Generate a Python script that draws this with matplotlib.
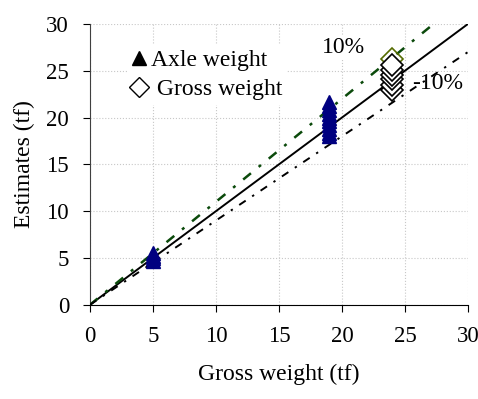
import matplotlib
matplotlib.use('Agg')
import matplotlib.pyplot as plt
from matplotlib.lines import Line2D

plt.rcParams['font.family'] = ['Liberation Serif', 'DejaVu Serif']

# data
axle_x = [5, 5, 5, 5, 19, 19, 19, 19, 19, 19, 19, 19, 19, 19]
axle_y = [4.7, 5.0, 5.2, 5.5, 18.0, 18.4, 18.8, 19.2, 19.6, 20.0, 20.4, 20.8, 21.2, 21.7]
gross_x = [24, 24, 24, 24, 24, 24, 24]
gross_y = [22.9, 23.5, 24.1, 24.6, 25.1, 25.6, 26.3]
ref_x = [0, 30]
ticks = [0, 5, 10, 15, 20, 25, 30]

fig = plt.figure(figsize=(4.78, 3.99), dpi=100)
ax = fig.add_axes([0.188, 0.236, 0.791, 0.704])

ax.plot(ref_x, [v for v in ref_x], 'k-', linewidth=1.4, zorder=3)
ax.plot(ref_x, [1.1 * v for v in ref_x], color='#0b4a0b', linestyle=(0, (4, 4, 1.2, 4)),
        linewidth=1.8, zorder=3)
ax.plot(ref_x, [0.9 * v for v in ref_x], color='black', linestyle=(0, (4, 4, 1.2, 4)),
        linewidth=1.4, zorder=3)

ax.plot(axle_x, axle_y, linestyle='none', marker='^', markersize=10,
        color='#000080', zorder=4)
ax.plot(gross_x[:-1], gross_y[:-1], linestyle='none', marker='D', markersize=11,
        markerfacecolor='white', markeredgecolor='black', markeredgewidth=1.2, zorder=5)
ax.plot(gross_x[-1:], gross_y[-1:], linestyle='none', marker='D', markersize=11,
        markerfacecolor='none', markeredgecolor='#556b00', markeredgewidth=1.2, zorder=4)

ax.text(20.1, 27.5, '10%', fontsize=17, ha='center', va='center',
        bbox=dict(facecolor='white', edgecolor='none', pad=1), zorder=2)
ax.text(27.6, 23.6, '-10%', fontsize=17, ha='center', va='center',
        bbox=dict(facecolor='white', edgecolor='none', pad=1), zorder=2)

handles = [Line2D([], [], linestyle='none', marker='^', color='black', markersize=10),
           Line2D([], [], linestyle='none', marker='D', markerfacecolor='white',
                  markeredgecolor='black', markersize=10)]
leg = ax.legend(handles, ['Axle weight', ' Gross weight'], loc='upper left',
                bbox_to_anchor=(0.1, 0.925), frameon=True, fancybox=False,
                edgecolor='none', facecolor='white', framealpha=1, fontsize=17,
                handlelength=0.6, handletextpad=0.2, borderpad=0.2, labelspacing=0.3,
                borderaxespad=0)

ax.set_xlim(0, 30)
ax.set_ylim(0, 30)
ax.set_xticks(ticks)
ax.set_yticks(ticks)
ax.grid(True, color='#c8c8c8', linestyle=':', linewidth=0.8)
ax.set_axisbelow(True)
ax.spines['top'].set_visible(False)
ax.spines['right'].set_visible(False)
ax.spines['left'].set_color('#404040')
ax.spines['bottom'].set_color('black')
ax.tick_params(axis='both', direction='out', length=5, labelsize=16.5, pad=10)
ax.set_xlabel('Gross weight (tf)', fontsize=17, labelpad=12)
ax.set_ylabel('Estimates (tf)', fontsize=17, labelpad=8)

fig.savefig('out.png', dpi=100)
